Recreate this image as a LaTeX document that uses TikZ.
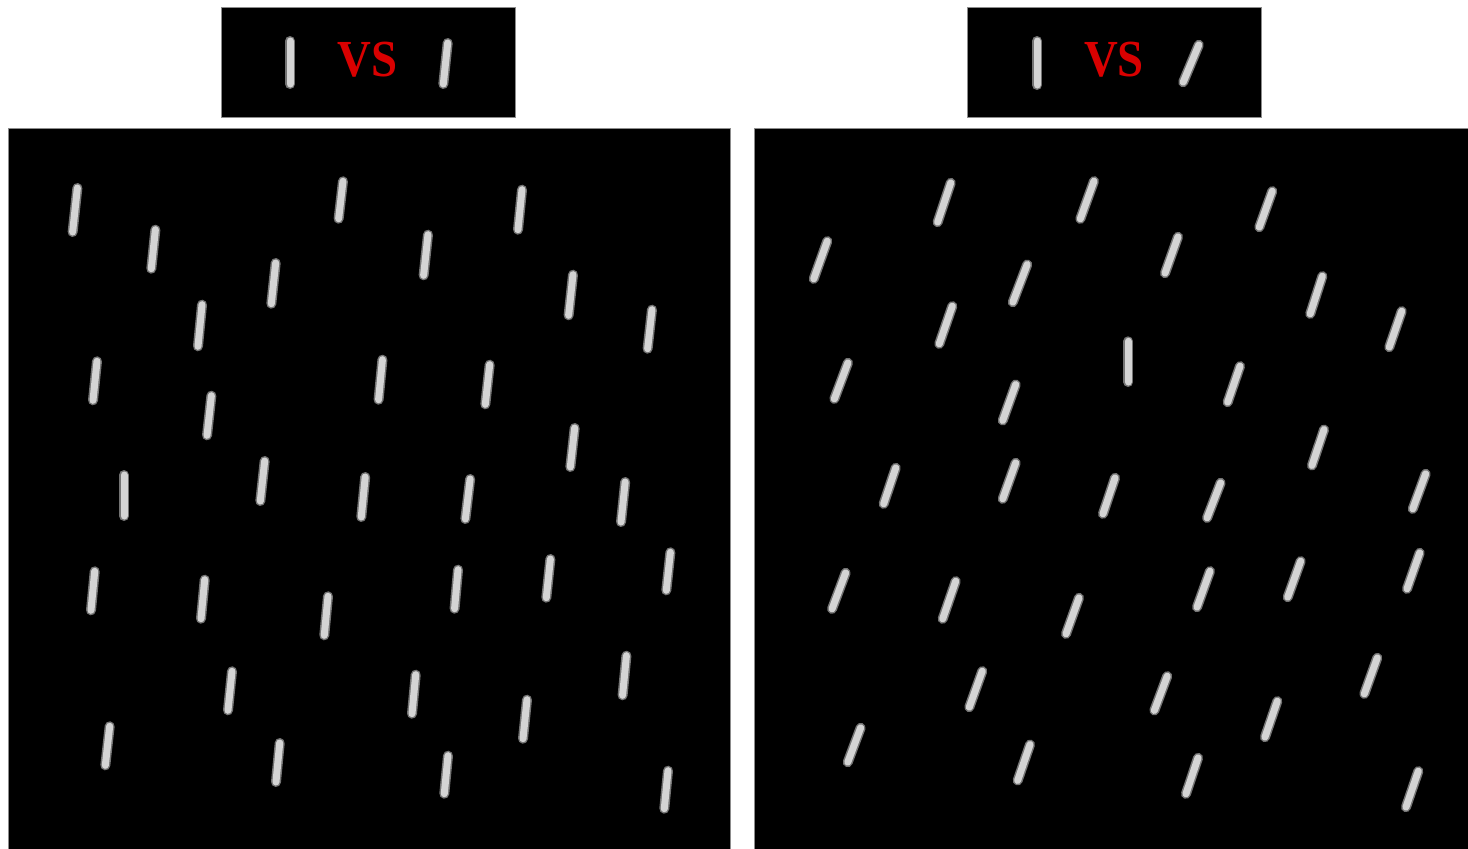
\documentclass[tikz,border=0pt]{standalone}
\usepackage{fontspec}
\setmainfont{Liberation Serif}
\newcommand\segline[4]{%
  \draw[segback] (#1,#2) -- (#3,#4);
  \draw[segfront] (#1,#2) -- (#3,#4);}
\tikzset{
  panel/.style={fill=black, draw=black!45, line width=0.8pt},
  segback/.style={line width=10pt, draw=black!55, line cap=round, shorten <=3pt, shorten >=3pt},
  segfront/.style={line width=7pt, draw=black!17, line cap=round, shorten <=3pt, shorten >=3pt},
  vstext/.style={text=red!85!black, inner sep=0pt, font=\fontsize{52}{52}\selectfont\bfseries}
}
\begin{document}
\begin{tikzpicture}[x=1pt,y=-1pt]
\useasboundingbox (0,0) rectangle (1468,849);
\fill[white] (0,0) rectangle (1468,849);
% top boxes
\draw[panel] (221,7) rectangle (515,117);
\draw[panel] (967,7) rectangle (1261,117);
% big panels
\draw[panel] (8,128) rectangle (730,849);
\draw[panel] (754,128) rectangle (1468,849);
% VS labels
\node[vstext] (vsL) at (367.5,60) {\scalebox{0.9}[1]{VS}};
\node[vstext] (vsR) at (1114,60) {\scalebox{0.9}[1]{VS}};
% top samples
\segline{290}{38}{290}{87}
\segline{448}{40}{443}{87}
\segline{1037}{38}{1037}{88}
\segline{1200}{42}{1182}{85}
% left panel
\segline{77.7}{185}{72.3}{235}
\segline{155.7}{226.7}{151}{271.7}
\segline{343.3}{178.3}{338.3}{221.7}
\segline{276}{260}{271}{306.7}
\segline{202.3}{301.7}{197.7}{349.3}
\segline{97.3}{358.3}{92.7}{403.3}
\segline{211.7}{392.7}{206.7}{438.3}
\segline{522.3}{186.7}{517.7}{232.7}
\segline{428.3}{231.7}{423.3}{278.3}
\segline{573.3}{271.7}{568.3}{318.3}
\segline{652.3}{306.7}{647.3}{351.7}
\segline{382.7}{356.7}{378.3}{402.7}
\segline{490}{361.7}{485}{407.3}
\segline{575}{425}{570}{470}
\segline{124}{472}{124}{519}
\segline{265}{458}{260}{504}
\segline{365.5}{474}{361}{520}
\segline{470.5}{476}{465}{522}
\segline{625.5}{479}{620.7}{525}
\segline{95}{568.3}{90.7}{613.3}
\segline{205}{576.7}{200.7}{621.7}
\segline{328.3}{593.3}{324}{638.3}
\segline{458.3}{566.7}{454.3}{611.7}
\segline{550.7}{556}{546}{600.7}
\segline{670.7}{549.3}{666}{593.3}
\segline{232.3}{668.3}{227.7}{713.3}
\segline{416}{671.7}{411.7}{716.7}
\segline{527.3}{696.7}{522.7}{741.7}
\segline{626.7}{652.7}{622.3}{698.3}
\segline{110}{723.3}{105}{768.3}
\segline{280}{740}{275.7}{785}
\segline{448.3}{752.7}{444}{796.7}
\segline{668.3}{767.7}{664}{811.7}
% right panel
\segline{951.7}{180}{936.7}{225}
\segline{1095}{178.3}{1079.3}{221.7}
\segline{828.3}{238.3}{812.7}{281.7}
\segline{1028.3}{261.7}{1011.7}{305}
\segline{953.3}{303.3}{938.3}{346.7}
\segline{849}{360}{833.3}{401.7}
\segline{1016.7}{381.7}{1001.7}{423.3}
\segline{1273.3}{188.3}{1258.3}{230}
\segline{1179}{234}{1164}{276}
\segline{1323.3}{273.3}{1309.3}{316.7}
\segline{1402.7}{308.3}{1388.3}{350}
\segline{1128.3}{338.3}{1128.3}{385}
\segline{1241}{363.3}{1226.7}{405}
\segline{1325}{426.7}{1311}{468.3}
\segline{896.7}{465}{882.7}{506.7}
\segline{1016.7}{460}{1001.7}{501.7}
\segline{1116}{475}{1102}{516.7}
\segline{1221.7}{480}{1206}{520.7}
\segline{1426.7}{471}{1411.7}{511.7}
\segline{846.7}{570}{831}{611.7}
\segline{956.7}{578.3}{941.7}{621.7}
\segline{1080}{595}{1065}{636.7}
\segline{1211}{568.3}{1196}{610}
\segline{1301.7}{558.3}{1286.7}{600}
\segline{1420.7}{550}{1406}{591.7}
\segline{983.3}{668.3}{968.3}{710}
\segline{1168.3}{673.3}{1153.3}{713.3}
\segline{1378.3}{655}{1363.3}{696.7}
\segline{1278.3}{698.3}{1264}{740}
\segline{861.7}{725}{846.7}{765}
\segline{1031}{741.7}{1016.7}{783.3}
\segline{1199}{755}{1185}{796.7}
\segline{1419.3}{768.3}{1405}{810}
\end{tikzpicture}
\end{document}
